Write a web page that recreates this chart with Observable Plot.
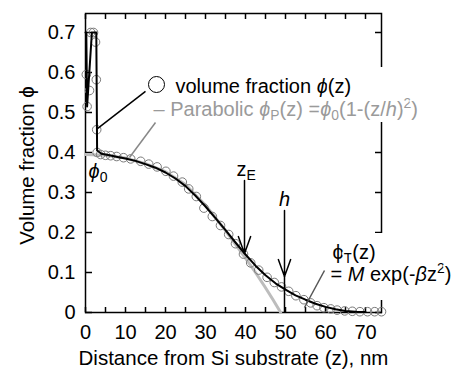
<!DOCTYPE html>
<html><head><meta charset="utf-8">
<script src="https://cdn.jsdelivr.net/npm/d3@7"></script>
<script src="https://cdn.jsdelivr.net/npm/@observablehq/plot@0.6"></script>
<style>body{margin:0;background:#fff;}</style>
</head><body><div id="chart"></div>
<script>
// measured volume fraction (circles)
const nearZ   = [0.2, 0.4, 1.0, 1.3, 2.0, 2.5, 2.7, 2.8, 2.9];
const nearPhi = [0.595, 0.515, 0.555, 0.70, 0.70, 0.676, 0.582, 0.457, 0.40];
const mainZ   = [3.8, 5, 6.3, 7.8, 9.5, 11.3, 13.8, 15.8, 17.9, 20.1, 22.0, 24.2, 25.8, 27.7, 29.6, 31.7, 33.75, 35.8, 37.5, 39.5, 41.3, 43.3, 45.4, 47.2, 49.0, 50.8, 52.6, 54.6, 56.3, 57.9, 59.6, 61.3, 62.9, 64.8, 66.7, 68.6, 70.5, 72.3, 74.0];
const mainPhi = [0.395, 0.393, 0.392, 0.390, 0.387, 0.384, 0.378, 0.371, 0.364, 0.353, 0.341, 0.326, 0.309, 0.29, 0.261, 0.24, 0.2175, 0.195, 0.172, 0.146, 0.124, 0.106, 0.088, 0.075, 0.064, 0.053, 0.042, 0.032, 0.024, 0.017, 0.012, 0.009, 0.006, 0.004, 0.003, 0.002, 0.002, 0.002, 0.002];
// black fitted profile
const blackZ   = [0, 0.2, 0.4, 1.6, 2.7, 2.9, 4, 6, 8, 10, 12.5, 15, 17.5, 20, 22.5, 25, 27.5, 30, 32.5, 35, 37.5, 40, 42.5, 45, 47.5, 50, 52.5, 55, 57.5, 60, 62.5, 65, 67.5, 70];
const blackPhi = [0.70, 0.70, 0.515, 0.70, 0.70, 0.405, 0.397, 0.393, 0.389, 0.385, 0.379, 0.371, 0.362, 0.350, 0.335, 0.316, 0.292, 0.265, 0.236, 0.206, 0.175, 0.145, 0.117, 0.093, 0.073, 0.057, 0.043, 0.032, 0.022, 0.014, 0.008, 0.004, 0.002, 0.001];
// gray parabolic profile
const grayZ   = [0, 5, 10, 15, 20, 25, 30, 35, 40, 42.5, 45, 47, 48.8];
const grayPhi = [0.395, 0.393, 0.386, 0.372, 0.352, 0.32, 0.268, 0.205, 0.136, 0.1, 0.062, 0.03, 0.0];
// ticks
const xMajor = [0, 10, 20, 30, 40, 50, 60, 70];
const xMinor = [0, 5, 10, 15, 20, 25, 30, 35, 40, 45, 50, 55, 60, 65, 70];
const yTicks = [0, 0.1, 0.2, 0.3, 0.4, 0.5, 0.6, 0.7];
// texts
const xTitle = "Distance from Si substrate (z), nm";
const yTitle = "Volume fraction \u03D5";
const labelsStart = [
  {z: 22.5, phi: 0.566, text: "volume fraction {i:\u03D5}(z)", color: "#000"},
  {z: 17.0, phi: 0.5085, text: "\u2013 Parabolic {i:\u03D5}{sub:P}(z) ={i:\u03D5}{sub:0}(1-(z/{i:h}){sup:2})", color: "#9a9a9a"},
  {z: 0.75, phi: 0.3535, text: "{i:\u03D5}{sub:0}", color: "#000"},
  {z: 37.75, phi: 0.3585, text: "z{sub:E}", color: "#000"},
  {z: 61.75, phi: 0.149, text: "\u03D5{sub:T}(z)", color: "#000"},
  {z: 61.25, phi: 0.094, text: "= {i:M} exp(-{i:\u03B2}z{sup:2})", color: "#000"}
];
const labelsMiddle = [
  {z: 49.75, phi: 0.2835, text: "{i:h}", color: "#000"}
];
const boxes = [
  {x1: 16, x2: 87, y1: 0.475, y2: 0.6125},
  {x1: 60, x2: 94, y1: 0.03, y2: 0.1975}
];
const leaders = [
  {x1: 2.9, y1: 0.459, x2: 15, y2: 0.553, color: "#000"},
  {x1: 17.5, y1: 0.475, x2: 11, y2: 0.3875, color: "#888"},
  {x1: 59.75, y1: 0.105, x2: 54.75, y2: 0.0125, color: "#555"}
];
const arrows = [
  {x1: 39.75, y1: 0.33, x2: 39.75, y2: 0.1475},
  {x1: 49.75, y1: 0.255, x2: 49.75, y2: 0.09}
];
const hStem = [{x: 49.75, y1: 0.09, y2: 0}];
const legendDot = [{z: 17.75, phi: 0.57}];

const circles = nearZ.map((z, i) => ({z, phi: nearPhi[i]}))
  .concat(mainZ.map((z, i) => ({z, phi: mainPhi[i]})));
const black = blackZ.map((z, i) => ({z, phi: blackPhi[i]}));
const gray = grayZ.map((z, i) => ({z, phi: grayPhi[i]}));

const font = "'Liberation Sans', Arial, Helvetica, sans-serif";
const textOpts = {x: "z", y: "phi", text: "text", fill: d => d.color, fontSize: 20, stroke: "white", strokeWidth: 4};
const plot = Plot.plot({
  width: 462, height: 372,
  marginLeft: 85, marginRight: 81, marginTop: 13, marginBottom: 60,
  x: {domain: [0, 74], label: null},
  y: {domain: [0, 0.7475], label: null},
  style: {fontFamily: font, fontSize: "20px", background: "white", color: "black"},
  marks: [
    Plot.frame({stroke: "black", strokeWidth: 1.5}),
    Plot.axisX({ticks: xMinor, tickSize: -5, strokeWidth: 1.5, tickFormat: () => "", label: null}),
    Plot.axisX({ticks: xMajor, tickSize: 0, tickPadding: 12, label: null, fontSize: 20, tickFormat: d => String(d)}),
    Plot.axisX({anchor: "top", ticks: xMinor, tickSize: -5, strokeWidth: 1.5, tickFormat: () => "", label: null}),
    Plot.axisY({ticks: yTicks, tickSize: -7, tickPadding: 17, strokeWidth: 1.5, label: null, fontSize: 20, tickFormat: d => String(d)}),
    Plot.axisY({anchor: "right", ticks: yTicks, tickSize: -7, strokeWidth: 1.5, tickFormat: () => "", label: null}),
    Plot.line(gray, {x: "z", y: "phi", stroke: "#bdbdbd", strokeWidth: 3}),
    Plot.dot(circles, {x: "z", y: "phi", r: 4.3, stroke: "#7a7a7a", strokeWidth: 1, fill: "none"}),
    Plot.line(black, {x: "z", y: "phi", stroke: "#000", strokeWidth: 2}),
    Plot.rect(boxes, {x1: "x1", x2: "x2", y1: "y1", y2: "y2", fill: "white"}),
    Plot.text(labelsStart, {...textOpts, textAnchor: "start"}),
    Plot.text(labelsMiddle, {...textOpts, textAnchor: "middle"}),
    Plot.link(leaders, {x1: "x1", y1: "y1", x2: "x2", y2: "y2", stroke: d => d.color, strokeWidth: 1.5}),
    Plot.arrow(arrows, {x1: "x1", y1: "y1", x2: "x2", y2: "y2", stroke: "black", strokeWidth: 1.5, headLength: 18, headAngle: 40}),
    Plot.ruleX(hStem, {x: "x", y1: "y1", y2: "y2", stroke: "black", strokeWidth: 1.5}),
    Plot.dot(legendDot, {x: "z", y: "phi", r: 8, stroke: "black", strokeWidth: 1, fill: "white"}),
    Plot.text([xTitle], {frameAnchor: "bottom", textAnchor: "middle", dy: 52, fontSize: 20.5, fill: "black"}),
    Plot.text([yTitle], {frameAnchor: "left", textAnchor: "middle", dx: -58, dy: 2.5, rotate: -90, fontSize: 20.5, fill: "black"})
  ]
});

// italic, sub- and superscript parts of label texts
function richify(root) {
  const NS = "http://www.w3.org/2000/svg";
  root.querySelectorAll("text").forEach(t => {
    const s = t.textContent;
    if (!s.includes("{")) return;
    t.textContent = "";
    const re = /\{(i|sub|sup):([^}]*)\}/g;
    let last = 0, m, shift = 0;
    const add = (txt, kind) => {
      const ts = document.createElementNS(NS, "tspan");
      ts.textContent = txt;
      let target = 0;
      if (kind === "sub") { target = 4; ts.setAttribute("font-size", "14"); }
      if (kind === "sup") { target = -8; ts.setAttribute("font-size", "14"); }
      if (kind === "i") ts.setAttribute("font-style", "italic");
      const d = target - shift;
      if (d) ts.setAttribute("dy", d);
      shift = target;
      t.appendChild(ts);
    };
    while ((m = re.exec(s))) {
      if (m.index > last) add(s.slice(last, m.index), "n");
      add(m[2], m[1]);
      last = re.lastIndex;
    }
    if (last < s.length) add(s.slice(last), "n");
  });
}
richify(plot);
document.getElementById("chart").appendChild(plot);
</script>
</body></html>
